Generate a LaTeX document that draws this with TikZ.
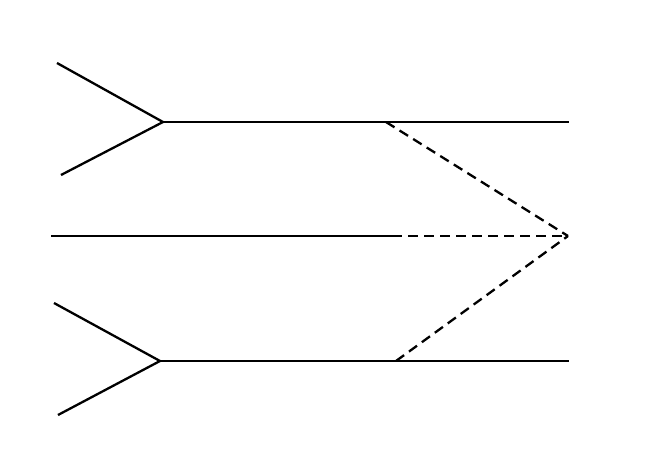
\documentclass[tikz,border=0pt]{standalone}
\begin{document}
\begin{tikzpicture}[x=1pt,y=-1pt,
  solidline/.style={line width=2.3pt,black},
  dashline/.style={line width=2.3pt,black,dash pattern=on 10pt off 6pt}]
\useasboundingbox (0,0) rectangle (646,464);
% top
\coordinate (t1) at (57,63);
\coordinate (t2) at (61,175);
\coordinate (tv) at (163,122);
\coordinate (te) at (569,122);
\coordinate (td) at (386,122);
% middle
\coordinate (ms) at (51,236);
\coordinate (mm) at (402,236);
\coordinate (apex) at (568,236);
% bottom
\coordinate (b1) at (54,303);
\coordinate (b2) at (58,415);
\coordinate (bv) at (160,361);
\coordinate (be) at (569,361);
\coordinate (bd) at (396,361);
\draw[solidline] (t1) -- (tv) -- (t2);
\draw[solidline] (tv) -- (te);
\draw[solidline] (b1) -- (bv) -- (b2);
\draw[solidline] (bv) -- (be);
\draw[solidline] (ms) -- (mm);
\draw[dashline,dash phase=10pt] (mm) -- (apex);
\draw[dashline] (td) -- (apex);
\draw[dashline] (bd) -- (apex);
\end{tikzpicture}
\end{document}
